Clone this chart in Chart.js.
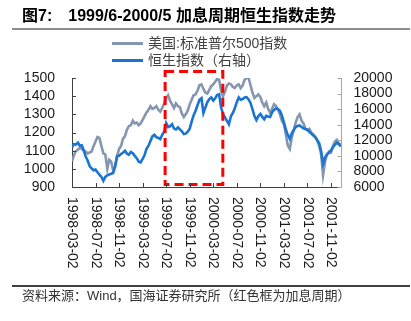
<!DOCTYPE html>
<html><head><meta charset="utf-8">
<script src="https://cdn.jsdelivr.net/npm/chart.js@4.4.0/dist/chart.umd.min.js"></script>
<style>
html,body{margin:0;padding:0;background:#fff;width:411px;height:321px;overflow:hidden;}
#wrap{position:relative;width:411px;height:321px;}
canvas{position:absolute;left:0;top:0;}
.t{position:absolute;white-space:nowrap;font-family:"Liberation Sans","Noto Sans CJK SC",sans-serif;}
.ln{position:absolute;height:3px;}
</style></head><body>
<div id="wrap">
<canvas id="c" width="411" height="321"></canvas>
<div class="t" style="left:22px;top:5px;font-size:16px;line-height:21px;font-weight:bold;color:#000;">图7:<span style="margin-left:16px">1999/6-2000/5 加息周期恒生指数走势</span></div>
<div style="position:absolute;left:12px;top:28px;width:398px;height:2px;background:#8c8c8c"></div>
<div class="ln" style="left:112px;top:42px;width:31px;background:#8496b0"></div>
<div class="t" style="left:148px;top:35px;font-size:14px;line-height:17px;color:#404040">美国:标准普尔500指数</div>
<div class="ln" style="left:112px;top:59px;width:31px;background:#1a74d2"></div>
<div class="t" style="left:148px;top:52px;font-size:14px;line-height:17px;color:#404040">恒生指数（右轴）</div>
<div style="position:absolute;left:12px;top:285px;width:398px;height:1.5px;background:#404040"></div>
<div class="t" style="left:22px;top:287px;font-size:13px;line-height:17px;color:#333">资料来源：Wind，国海证券研究所（红色框为加息周期）</div>
</div>
<script>
const tickLabels = ['1998-03-02','1998-07-02','1998-11-02','1999-03-02','1999-07-02','1999-11-02','2000-03-02','2000-07-02','2000-11-02','2001-03-02','2001-07-02','2001-11-02'];
const leftTicks = [900,1000,1100,1200,1300,1400,1500];
const rightTicks = [6000,8000,10000,12000,14000,16000,18000,20000];
const hikeStart = '1999-06-27';
const hikeEnd = '2000-04-21';
const axisEnd = '2001-12-26';

const dates = [
'1998-03-02','1998-03-12','1998-03-22','1998-04-02','1998-04-12','1998-04-22','1998-05-02','1998-05-12','1998-05-22','1998-06-02','1998-06-12','1998-06-22',
'1998-07-02','1998-07-12','1998-07-22','1998-08-02','1998-08-12','1998-08-22','1998-09-02','1998-09-12','1998-09-22','1998-10-02','1998-10-12','1998-10-22',
'1998-11-02','1998-11-12','1998-11-22','1998-12-02','1998-12-12','1998-12-22',
'1999-01-02','1999-01-12','1999-01-22','1999-02-02','1999-02-12','1999-02-22','1999-03-02','1999-03-12','1999-03-22','1999-04-02','1999-04-12','1999-04-22',
'1999-05-02','1999-05-12','1999-05-22','1999-06-02','1999-06-12','1999-06-22','1999-07-02','1999-07-12','1999-07-22','1999-08-02','1999-08-12','1999-08-22',
'1999-09-02','1999-09-12','1999-09-22','1999-10-02','1999-10-12','1999-10-22','1999-11-02','1999-11-12','1999-11-22','1999-12-02','1999-12-12','1999-12-22',
'2000-01-02','2000-01-12','2000-01-22','2000-02-02','2000-02-12','2000-02-22','2000-03-02','2000-03-12','2000-03-22','2000-04-02','2000-04-12','2000-04-22',
'2000-05-02','2000-05-12','2000-05-22','2000-06-02','2000-06-12','2000-06-22','2000-07-02','2000-07-12','2000-07-22','2000-08-02','2000-08-12','2000-08-22',
'2000-09-02','2000-09-12','2000-09-22','2000-10-02','2000-10-12','2000-10-22','2000-11-02','2000-11-12','2000-11-22','2000-12-02','2000-12-12','2000-12-22',
'2001-01-02','2001-01-12','2001-01-22','2001-02-02','2001-02-12','2001-02-22','2001-03-02','2001-03-12','2001-03-22','2001-04-02','2001-04-12','2001-04-22',
'2001-05-02','2001-05-12','2001-05-22','2001-06-02','2001-06-12','2001-06-22','2001-07-02','2001-07-12','2001-07-22','2001-08-02','2001-08-12','2001-08-22',
'2001-09-02','2001-09-12','2001-09-22','2001-10-02','2001-10-12','2001-10-22','2001-11-02','2001-11-12','2001-11-22','2001-12-02','2001-12-12','2001-12-22'
];
const sp500 = [
1040,1075,1098,1105,1115,1110,1100,1095,1085,1090,1095,1125,
1150,1175,1170,1125,1085,1080,1000,1050,1040,990,1010,1070,
1110,1125,1165,1180,1215,1235,
1240,1265,1250,1255,1240,1250,1270,1290,1310,1325,1345,1330,
1335,1345,1325,1315,1335,1360,1390,1405,1375,1355,1335,1360,
1345,1340,1305,1285,1300,1320,1355,1380,1405,1410,1430,1460,
1465,1440,1420,1415,1435,1455,1465,1480,1495,1490,1430,1400,
1425,1460,1470,1465,1450,1445,1460,1465,1445,1460,1490,1500,
1500,1460,1420,1390,1400,1410,1395,1365,1345,1365,1330,1310,
1330,1355,1345,1325,1300,1265,1245,1190,1130,1110,1170,1210,
1255,1285,1300,1265,1250,1220,1215,1220,1200,1190,1175,1160,
1125,1080,965,1040,1080,1095,1090,1125,1150,1160,1140,1135
];
const hsi = [
11100,11500,11450,11700,11300,11350,10700,9900,9400,8700,8400,8150,
8250,7900,7600,7300,6800,7300,7500,7600,7700,7800,8700,9950,
10000,10250,10400,10650,10300,10150,
10500,10350,10000,9700,9250,9150,9600,10100,10900,11300,11900,12500,
12700,12400,12300,12150,12700,13100,14200,13700,13800,14050,13500,13400,
13650,13400,13150,12800,12850,13100,13500,14400,15200,15800,16500,17200,
17400,15500,16200,16900,17300,17500,17100,17400,17800,17900,16200,15400,
14900,14500,14050,15100,15500,16100,16900,17500,17200,17300,17500,17550,
17250,16800,16000,15100,14600,15100,15400,15000,14700,15150,15050,15000,
15600,15900,16100,16000,15800,15200,14300,13400,12700,12200,12900,13300,
13700,13850,13900,13700,13550,13450,13300,13100,12850,12600,12400,12000,
11600,10600,9000,9800,10200,10400,10700,11100,11400,11700,11500,11200
];

function monthIndex(s){const p=s.split('-').map(Number);return (p[0]-1998)*12+(p[1]-3)+(p[2]-2)/30.5;}

const FONT = '"Liberation Sans", Arial, sans-serif';
const custom = {
  id:'custom',
  afterDatasetsDraw(chart){
    const {ctx, chartArea:a, scales:{x}} = chart;
    const x0 = x.getPixelForValue(monthIndex(hikeStart));
    const x1 = x.getPixelForValue(monthIndex(hikeEnd));
    ctx.save();
    ctx.strokeStyle='#ff0000'; ctx.lineWidth=3; ctx.setLineDash([9,5]);
    ctx.strokeRect(x0, a.top-6.5, x1-x0, a.bottom-2.5-(a.top-6.5));
    ctx.restore();
  },
  afterDraw(chart){
    const {ctx, chartArea:a, scales:{x,y,y1}} = chart;
    ctx.save();
    ctx.lineWidth=1;
    ctx.strokeStyle='#404040';
    ctx.beginPath();
    tickLabels.forEach(l=>{const px=Math.round(x.getPixelForValue(monthIndex(l)))+0.5;ctx.moveTo(px,a.bottom);ctx.lineTo(px,a.bottom-4);});
    leftTicks.forEach(v=>{const py=Math.round(y.getPixelForValue(v))+0.5;ctx.moveTo(a.left,py);ctx.lineTo(a.left+4,py);});
    ctx.stroke();
    ctx.strokeStyle='#a6a6a6';
    ctx.beginPath();
    rightTicks.forEach(v=>{const py=Math.round(y1.getPixelForValue(v))+0.5;ctx.moveTo(a.right,py);ctx.lineTo(a.right-4,py);});
    ctx.stroke();
    ctx.fillStyle='#1a1a1a';
    ctx.font='14px '+FONT;
    ctx.textAlign='left'; ctx.textBaseline='middle';
    tickLabels.forEach(l=>{
      const px=x.getPixelForValue(monthIndex(l));
      ctx.save(); ctx.translate(px, a.bottom+10); ctx.rotate(Math.PI/2); ctx.fillText(l,0,0); ctx.restore();
    });
    ctx.restore();
  }
};

new Chart(document.getElementById('c'), {
  type:'line',
  data:{
    datasets:[
      {label:'美国:标准普尔500指数', data:dates.map((d,i)=>({x:monthIndex(d),y:sp500[i]})), yAxisID:'y', borderColor:'#8496b0', borderWidth:2.6, pointRadius:0, tension:0, order:2},
      {label:'恒生指数（右轴）', data:dates.map((d,i)=>({x:monthIndex(d),y:hsi[i]})), yAxisID:'y1', borderColor:'#1a74d2', borderWidth:2.6, pointRadius:0, tension:0, order:1}
    ]
  },
  options:{
    responsive:false, animation:false, devicePixelRatio:1,
    layout:{padding:{top:78,left:0,right:0,bottom:0}},
    plugins:{legend:{display:false}, tooltip:{enabled:false}},
    scales:{
      x:{type:'linear', min:0, max:monthIndex(axisEnd), ticks:{display:false}, grid:{display:false, drawTicks:false, tickLength:0}, border:{display:true, color:'#404040', width:1},
         afterFit:s=>{s.height=134;}},
      y:{position:'left', min:900, max:1500, afterBuildTicks:s=>{s.ticks=leftTicks.map(v=>({value:v}));},
         ticks:{autoSkip:false, padding:17, color:'#1a1a1a', font:{size:14, family:FONT}, callback:v=>String(v)}, grid:{display:false, drawTicks:false, tickLength:0}, border:{display:true, color:'#404040', width:1},
         afterFit:s=>{s.width=72;}},
      y1:{position:'right', min:6000, max:20000, afterBuildTicks:s=>{s.ticks=rightTicks.map(v=>({value:v}));},
         ticks:{autoSkip:false, padding:12, color:'#1a1a1a', font:{size:14, family:FONT}, callback:v=>String(v)}, grid:{display:false, drawTicks:false, tickLength:0}, border:{display:true, color:'#a6a6a6', width:1},
         afterFit:s=>{s.width=69.5;}}
    }
  },
  plugins:[custom]
});
</script>
</body></html>
